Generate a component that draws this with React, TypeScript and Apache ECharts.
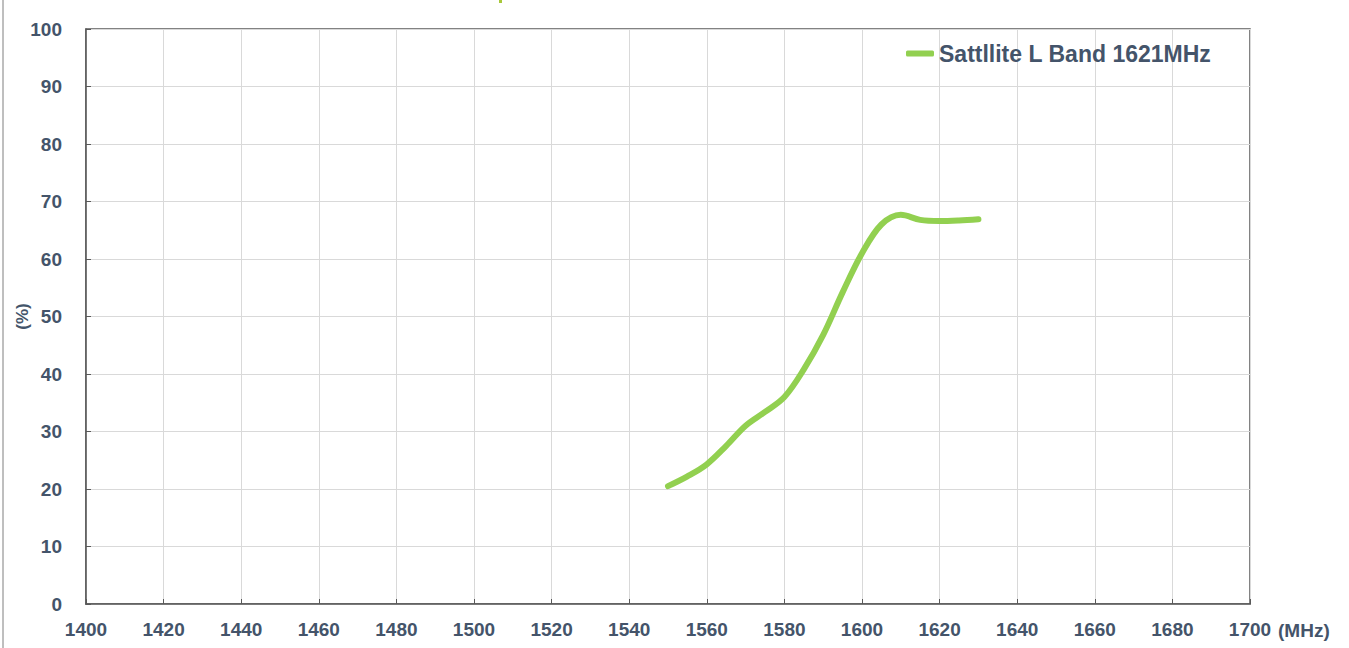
import React, { useEffect, useRef } from "react";
import * as echarts from "echarts";

const seriesName = "Sattllite L Band 1621MHz";
const freq = [1550, 1555, 1560, 1565, 1570, 1575, 1580, 1585, 1590, 1595, 1600, 1605, 1610, 1615, 1620, 1625, 1630];
const efficiency = [20.5, 22.2, 24.3, 27.5, 31.0, 33.4, 36.0, 40.8, 46.8, 54.2, 61.0, 66.0, 67.7, 66.8, 66.6, 66.7, 66.9];
const xMin = 1400;
const xMax = 1700;
const xStep = 20;
const yMin = 0;
const yMax = 100;
const yStep = 10;
const xUnit = "(MHz)";
const yUnit = "(%)";

const textColor = "#44546A";
const font = "'Liberation Sans', Arial, sans-serif";

export default function App() {
  const ref = useRef<HTMLDivElement>(null);
  useEffect(() => {
    if (!ref.current) return;
    const chart = echarts.init(ref.current, undefined, { renderer: "svg" });
    chart.setOption({
      animation: false,
      backgroundColor: "#ffffff",
      textStyle: { fontFamily: font },
      grid: {
        left: 86,
        right: 99,
        top: 29,
        bottom: 44,
        containLabel: false,
        outerBoundsMode: "none",
        show: true,
        borderColor: "#595959",
        borderWidth: 1.5,
      },
      legend: {
        left: 901,
        top: 37,
        itemWidth: 28,
        itemHeight: 6,
        icon: "roundRect",
        data: [seriesName],
        textStyle: { color: textColor, fontSize: 23, fontWeight: "bold", fontFamily: font },
      },
      graphic: [
        { type: "line", shape: { x1: 3, y1: 0, x2: 3, y2: 648 }, style: { stroke: "#7f7f7f", lineWidth: 1 } },
        { type: "rect", shape: { x: 499, y: 0, width: 3, height: 3 }, style: { fill: "#a8c83a" } },
        {
          type: "text",
          x: 1278,
          y: 630,
          style: {
            text: xUnit,
            fill: textColor,
            font: `bold 19px ${font}`,
            verticalAlign: "middle",
            align: "left",
          },
        },
      ],
      xAxis: {
        type: "value",
        min: xMin,
        max: xMax,
        interval: xStep,
        axisLine: { show: true, lineStyle: { color: "#595959", width: 1.5 } },
        axisTick: { show: true, inside: true, length: 5, lineStyle: { color: "#595959" } },
        axisLabel: {
          color: textColor,
          fontSize: 19,
          fontWeight: "bold",
          margin: 16,
          fontFamily: font,
          formatter: (v: number) => String(v),
        },
        splitLine: { show: true, lineStyle: { color: "#d9d9d9", width: 1 } },
      },
      yAxis: {
        type: "value",
        min: yMin,
        max: yMax,
        interval: yStep,
        name: yUnit,
        nameLocation: "middle",
        nameGap: 55,
        nameMoveOverlap: false,
        nameRotate: 90,
        nameTextStyle: { color: textColor, fontSize: 17, fontWeight: "bold", fontFamily: font },
        axisLine: { show: true, lineStyle: { color: "#595959", width: 1.5 } },
        axisTick: { show: true, inside: true, length: 5, lineStyle: { color: "#595959" } },
        axisLabel: {
          color: textColor,
          fontSize: 19,
          fontWeight: "bold",
          margin: 24,
          fontFamily: font,
          formatter: (v: number) => String(v),
        },
        splitLine: { show: true, lineStyle: { color: "#d9d9d9", width: 1 } },
      },
      series: [
        {
          name: seriesName,
          type: "line",
          data: freq.map((f, i) => [f, efficiency[i]]),
          smooth: 0.35,
          symbol: "none",
          lineStyle: { color: "#92D050", width: 6, cap: "round" },
          itemStyle: { color: "#92D050" },
        },
      ],
    });
    return () => chart.dispose();
  }, []);
  return <div ref={ref} style={{ position: "absolute", left: 0, top: 0, width: 1349, height: 648 }} />;
}
